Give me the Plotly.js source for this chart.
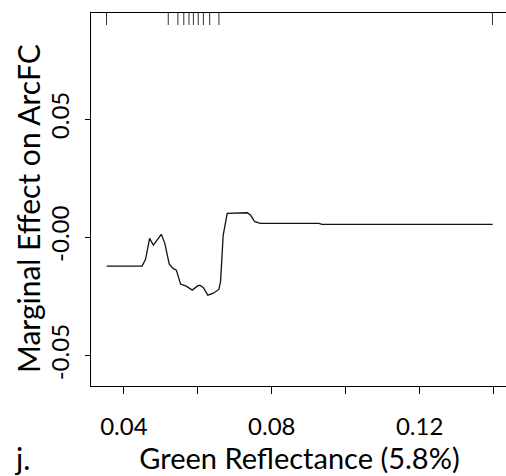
<!DOCTYPE html>
<html>
<head>
<meta charset="utf-8">
<script src="https://cdn.plot.ly/plotly-3.0.1.min.js"></script>
<style>
html, body { margin:0; padding:0; overflow:hidden; background:#fff; }
#chart { width:510px; height:476px; }
</style>
</head>
<body>
<div id="chart"></div>
<script>
// Partial dependence curve: Green Reflectance vs marginal effect on ArcFC
const greenX = [0.03532, 0.04492, 0.04586, 0.04695, 0.04797, 0.05011, 0.05105, 0.05227, 0.05330, 0.05419,
                0.05532, 0.05686, 0.05849, 0.05984, 0.06054, 0.06146, 0.06270, 0.06405, 0.06568, 0.06614,
                0.06686, 0.06795, 0.07335, 0.07424, 0.07541, 0.07695, 0.09270, 0.09362, 0.13973];
const effectY = [-0.01214, -0.01214, -0.00931, -0.00042, -0.00326, 0.00127, -0.00241, -0.01129, -0.01311, -0.01383,
                 -0.01975, -0.02060, -0.02229, -0.02060, -0.02018, -0.02115, -0.02441, -0.02369, -0.02200, -0.01878,
                 0.00097, 0.01015, 0.01041, 0.00943, 0.00660, 0.00592, 0.00592, 0.00550, 0.00550];
// Rug (deciles of the predictor) along the top
const rugX = [0.0353, 0.0520, 0.0546, 0.0562, 0.0576, 0.0588, 0.0601, 0.0615, 0.0632, 0.0657, 0.1397];
const xTickVals = [0.04, 0.06, 0.08, 0.10, 0.12, 0.14];
const xTickText = ["0.04", "", "0.08", "", "0.12", ""];
const yTickVals = [-0.05, 0, 0.05];
const yTickText = ["-0.05", "-0.00", "0.05"];
const xTitle = 'Green Reflectance (5.8%)';
const yTitle = 'Marginal Effect on ArcFC';
const panelLabel = 'j.';

const FONT = "Lato, 'Open Sans', sans-serif";
const PW = 417, PH = 373, ML = 91, MT = 13;

const rugShapes = rugX.map(v => ({
  type: 'line', xref: 'x', yref: 'paper',
  x0: v, x1: v, y0: 1, y1: 1 - 12/PH,
  line: {color: '#333', width: 1}
}));

const layout = {
  width: 510, height: 476,
  margin: {l: ML, r: 2, t: MT, b: 90},
  paper_bgcolor: '#fff', plot_bgcolor: '#fff',
  showlegend: false,
  font: {family: FONT, color: '#000'},
  xaxis: {
    range: [0.0311, 0.1439],
    tickvals: xTickVals, ticktext: xTickText,
    ticks: 'outside', ticklen: 7, tickwidth: 1, tickcolor: '#000',
    showline: true, linecolor: '#000', linewidth: 1, mirror: true,
    showgrid: false, zeroline: false,
    tickfont: {size: 24, family: FONT},
    ticklabelstandoff: 12,
    title: {text: xTitle, font: {size: 29, family: FONT}, standoff: 2}
  },
  yaxis: {
    range: [-0.0628, 0.0948],
    tickvals: yTickVals, ticktext: yTickText,
    tickangle: -90,
    ticks: 'outside', ticklen: 5, tickwidth: 1, tickcolor: '#000',
    showline: true, linecolor: '#000', linewidth: 1, mirror: true,
    showgrid: false, zeroline: false,
    tickfont: {size: 24, family: FONT},
    ticklabelstandoff: 6
  },
  shapes: rugShapes,
  annotations: [
    {
      text: yTitle, textangle: -90,
      xref: 'paper', yref: 'paper', x: (28 - ML)/PW, y: (MT + PH - 209)/PH,
      xanchor: 'center', yanchor: 'middle', showarrow: false,
      font: {size: 30, family: FONT, color: '#000'}
    },
    {
      text: panelLabel, xref: 'paper', yref: 'paper', x: (12 - ML)/PW, y: -72/PH,
      xanchor: 'left', yanchor: 'middle', showarrow: false,
      font: {size: 30, family: FONT, color: '#000'}
    }
  ]
};

const traces = [{
  type: 'scatter', mode: 'lines',
  x: greenX, y: effectY,
  line: {color: '#111', width: 1.3},
  hoverinfo: 'skip'
}];

Plotly.newPlot('chart', traces, layout, {staticPlot: true, displayModeBar: false});
</script>
</body>
</html>
